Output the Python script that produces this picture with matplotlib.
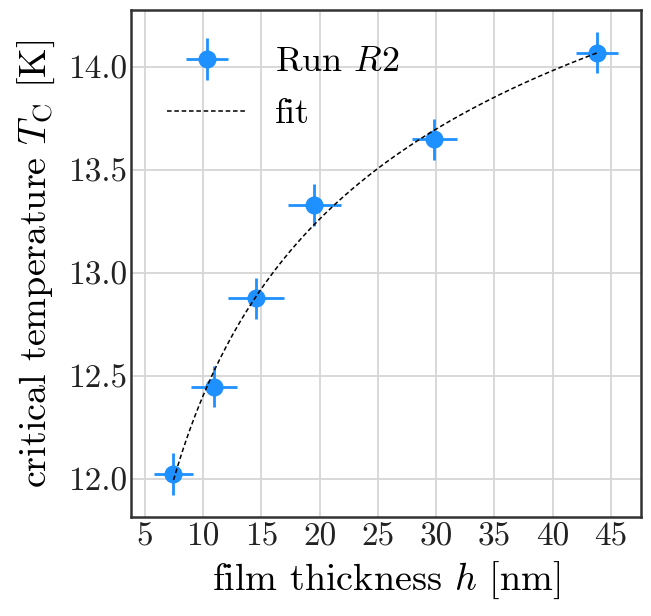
import numpy as np
import matplotlib
matplotlib.use("Agg")
import matplotlib.pyplot as plt
from matplotlib.legend_handler import HandlerErrorbar

# data
thickness = [7.46, 10.92, 14.54, 19.55, 29.82, 43.81]      # h [nm]
thickness_err = [1.7, 2.0, 2.4, 2.25, 1.93, 1.82]
tc = [12.024, 12.448, 12.877, 13.33, 13.649, 14.069]       # T_C [K]
tc_err = [0.1, 0.1, 0.1, 0.1, 0.1, 0.1]
x_ticks = [5, 10, 15, 20, 25, 30, 35, 40, 45]
y_ticks = [12.0, 12.5, 13.0, 13.5, 14.0]

plt.rcParams["font.family"] = "serif"
plt.rcParams["font.serif"] = ["cmr10"]
plt.rcParams["mathtext.fontset"] = "cm"
plt.rcParams["axes.formatter.use_mathtext"] = True

fig = plt.figure(figsize=(6.51, 6.16), dpi=100)
ax = fig.add_axes([0.201, 0.161, 0.784, 0.823])

h = np.array(thickness)
T = np.array(tc)

eb = ax.errorbar(h, T, xerr=thickness_err, yerr=tc_err, fmt="o", color="#1e90ff",
                 ms=12, elinewidth=2, capsize=0, label=r"Run $R2$", zorder=3)

# fit T_C = a + b * h^(-1/4) to the points
b, a = np.polyfit(h ** -0.25, T, 1)
hh = np.linspace(h.min(), h.max(), 200)
fit_line, = ax.plot(hh, a + b * hh ** -0.25, "--", color="black", lw=1.1,
                    dashes=(3, 1.8), label="fit", zorder=4)

ax.set_xlim(3.8, 47.6)
ax.set_ylim(11.816, 14.277)
ax.set_xticks(x_ticks)
ax.set_yticks(y_ticks)
ax.set_xticklabels([str(t) for t in x_ticks])
ax.set_yticklabels([f"{t:.1f}" for t in y_ticks])
ax.tick_params(length=0, labelsize=24, labelcolor="#222222")
ax.tick_params(axis="x", pad=4)
ax.tick_params(axis="y", pad=2.5)
ax.grid(True, color="#d6d6d6", lw=1.3)
ax.set_axisbelow(True)
for s in ax.spines.values():
    s.set_color("#333333")
    s.set_linewidth(1.8)

ax.set_xlabel(r"film thickness $h$ [nm]", fontsize=27.5, labelpad=6)
ax.set_ylabel(r"critical temperature $T_\mathrm{C}$ [K]", fontsize=27.5, labelpad=8)

ax.legend([eb, fit_line], [r"Run $R2$", "fit"], loc="upper left", frameon=False,
          fontsize=26, handlelength=2.2, borderaxespad=0.6, labelspacing=0.55,
          handler_map={type(eb): HandlerErrorbar(xerr_size=0.58, yerr_size=0.58)})

plt.savefig("out.png", dpi=100)
